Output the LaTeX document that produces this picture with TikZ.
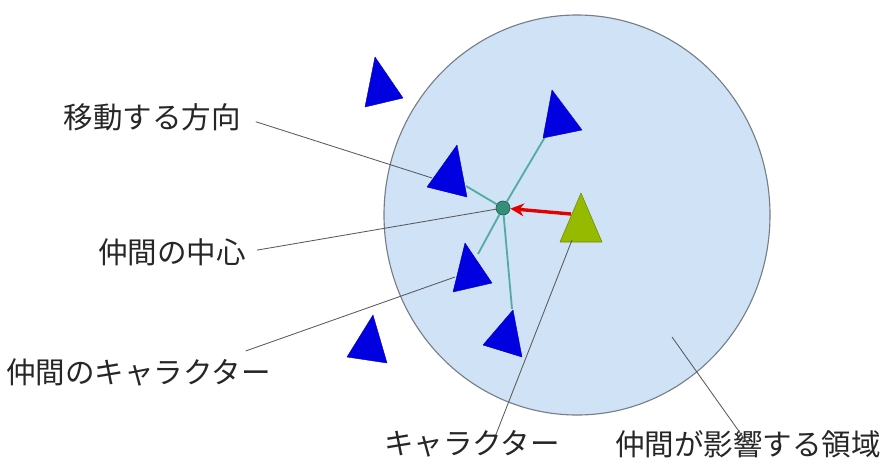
\documentclass[tikz,border=0pt]{standalone}
\usepackage{fontspec}
\newfontfamily\jpfont{Noto Sans CJK JP}
\usetikzlibrary{positioning,arrows.meta}
\definecolor{areafill}{RGB}{207,226,246}
\definecolor{areaedge}{RGB}{118,126,136}
\definecolor{matecol}{RGB}{0,0,225}
\definecolor{herocol}{RGB}{150,186,0}
\definecolor{linkcol}{RGB}{84,172,160}
\definecolor{hubcol}{RGB}{52,142,122}

\begin{document}
\begin{tikzpicture}[x=0.025cm,y=-0.025cm,>={Stealth[length=3.4mm,width=3.2mm]},
  callout/.style={font=\jpfont\fontsize{21}{24}\selectfont,text=black!85,inner sep=0pt},
  leadline/.style={draw=black!65,line width=0.6pt},
  mateshape/.style={fill=matecol,draw=matecol!85!black,line width=0.3pt,line join=round},
  linkline/.style={draw=linkcol,line width=1.3pt}]
\useasboundingbox (0,0) rectangle (893,468);
% area of the mates
\draw[fill=areafill,draw=areaedge,line width=0.8pt] (577,215) ellipse [x radius=193,y radius=200];

% targets of the leaders
\coordinate (dirt) at (432,178);
\coordinate (matet) at (455,277);
\coordinate (herot) at (572,240);
\coordinate (areat) at (672,337);

% links from the hub to the mates
\node[circle,fill=hubcol,draw=hubcol!60!black,line width=0.4pt,minimum size=10pt,inner sep=0pt] (hub) at (503,208) {};
\draw[linkline] (hub) -- (545,137);
\draw[linkline] (hub) -- (466,186);
\draw[linkline] (hub) -- (478,254);
\draw[linkline] (hub) -- (512,309);

% mates
\filldraw[mateshape] (375,57) -- (403,98) -- (365,107) -- cycle;
\filldraw[mateshape] (552,90) -- (582,130) -- (543,138) -- cycle;
\filldraw[mateshape] (457,145) -- (467,197) -- (427,187) -- cycle;
\filldraw[mateshape] (465,243) -- (492,283) -- (453,292) -- cycle;
\filldraw[mateshape] (513,310) -- (522,357) -- (483,345) -- cycle;
\filldraw[mateshape] (373,315) -- (387,363) -- (347,357) -- cycle;

% the character
\filldraw[fill=herocol,draw=herocol!75!black,line width=0.4pt,line join=round] (581,193) -- (602,242) -- (560,242) -- cycle;
\coordinate (hero) at (571,214);
\draw[->,red!90!black,line width=2.4pt] (hero) -- (hub);

% labels
\node[callout,anchor=east] (dir) at (241,117) {移動する方向};
\node[callout,anchor=east] (center) at (246,252) {仲間の中心};
\node[callout,anchor=east] (mates) at (271,372) {仲間のキャラクター};
\node[callout] (chara) at (472,444) {キャラクター};
\node[callout] (area) at (748,444) {仲間が影響する領域};

\draw[leadline,shorten <=11] (dir.east) -- (dirt);
\draw[leadline,shorten <=8] (center.east) -- (hub);
\draw[leadline] ([xshift=-18,yshift=5]mates.north east) -- (matet);
\draw[leadline] ([xshift=17,yshift=-3]chara.north) -- (herot);
\draw[leadline] ([yshift=-10]area.north) -- (areat);
\end{tikzpicture}
\end{document}
